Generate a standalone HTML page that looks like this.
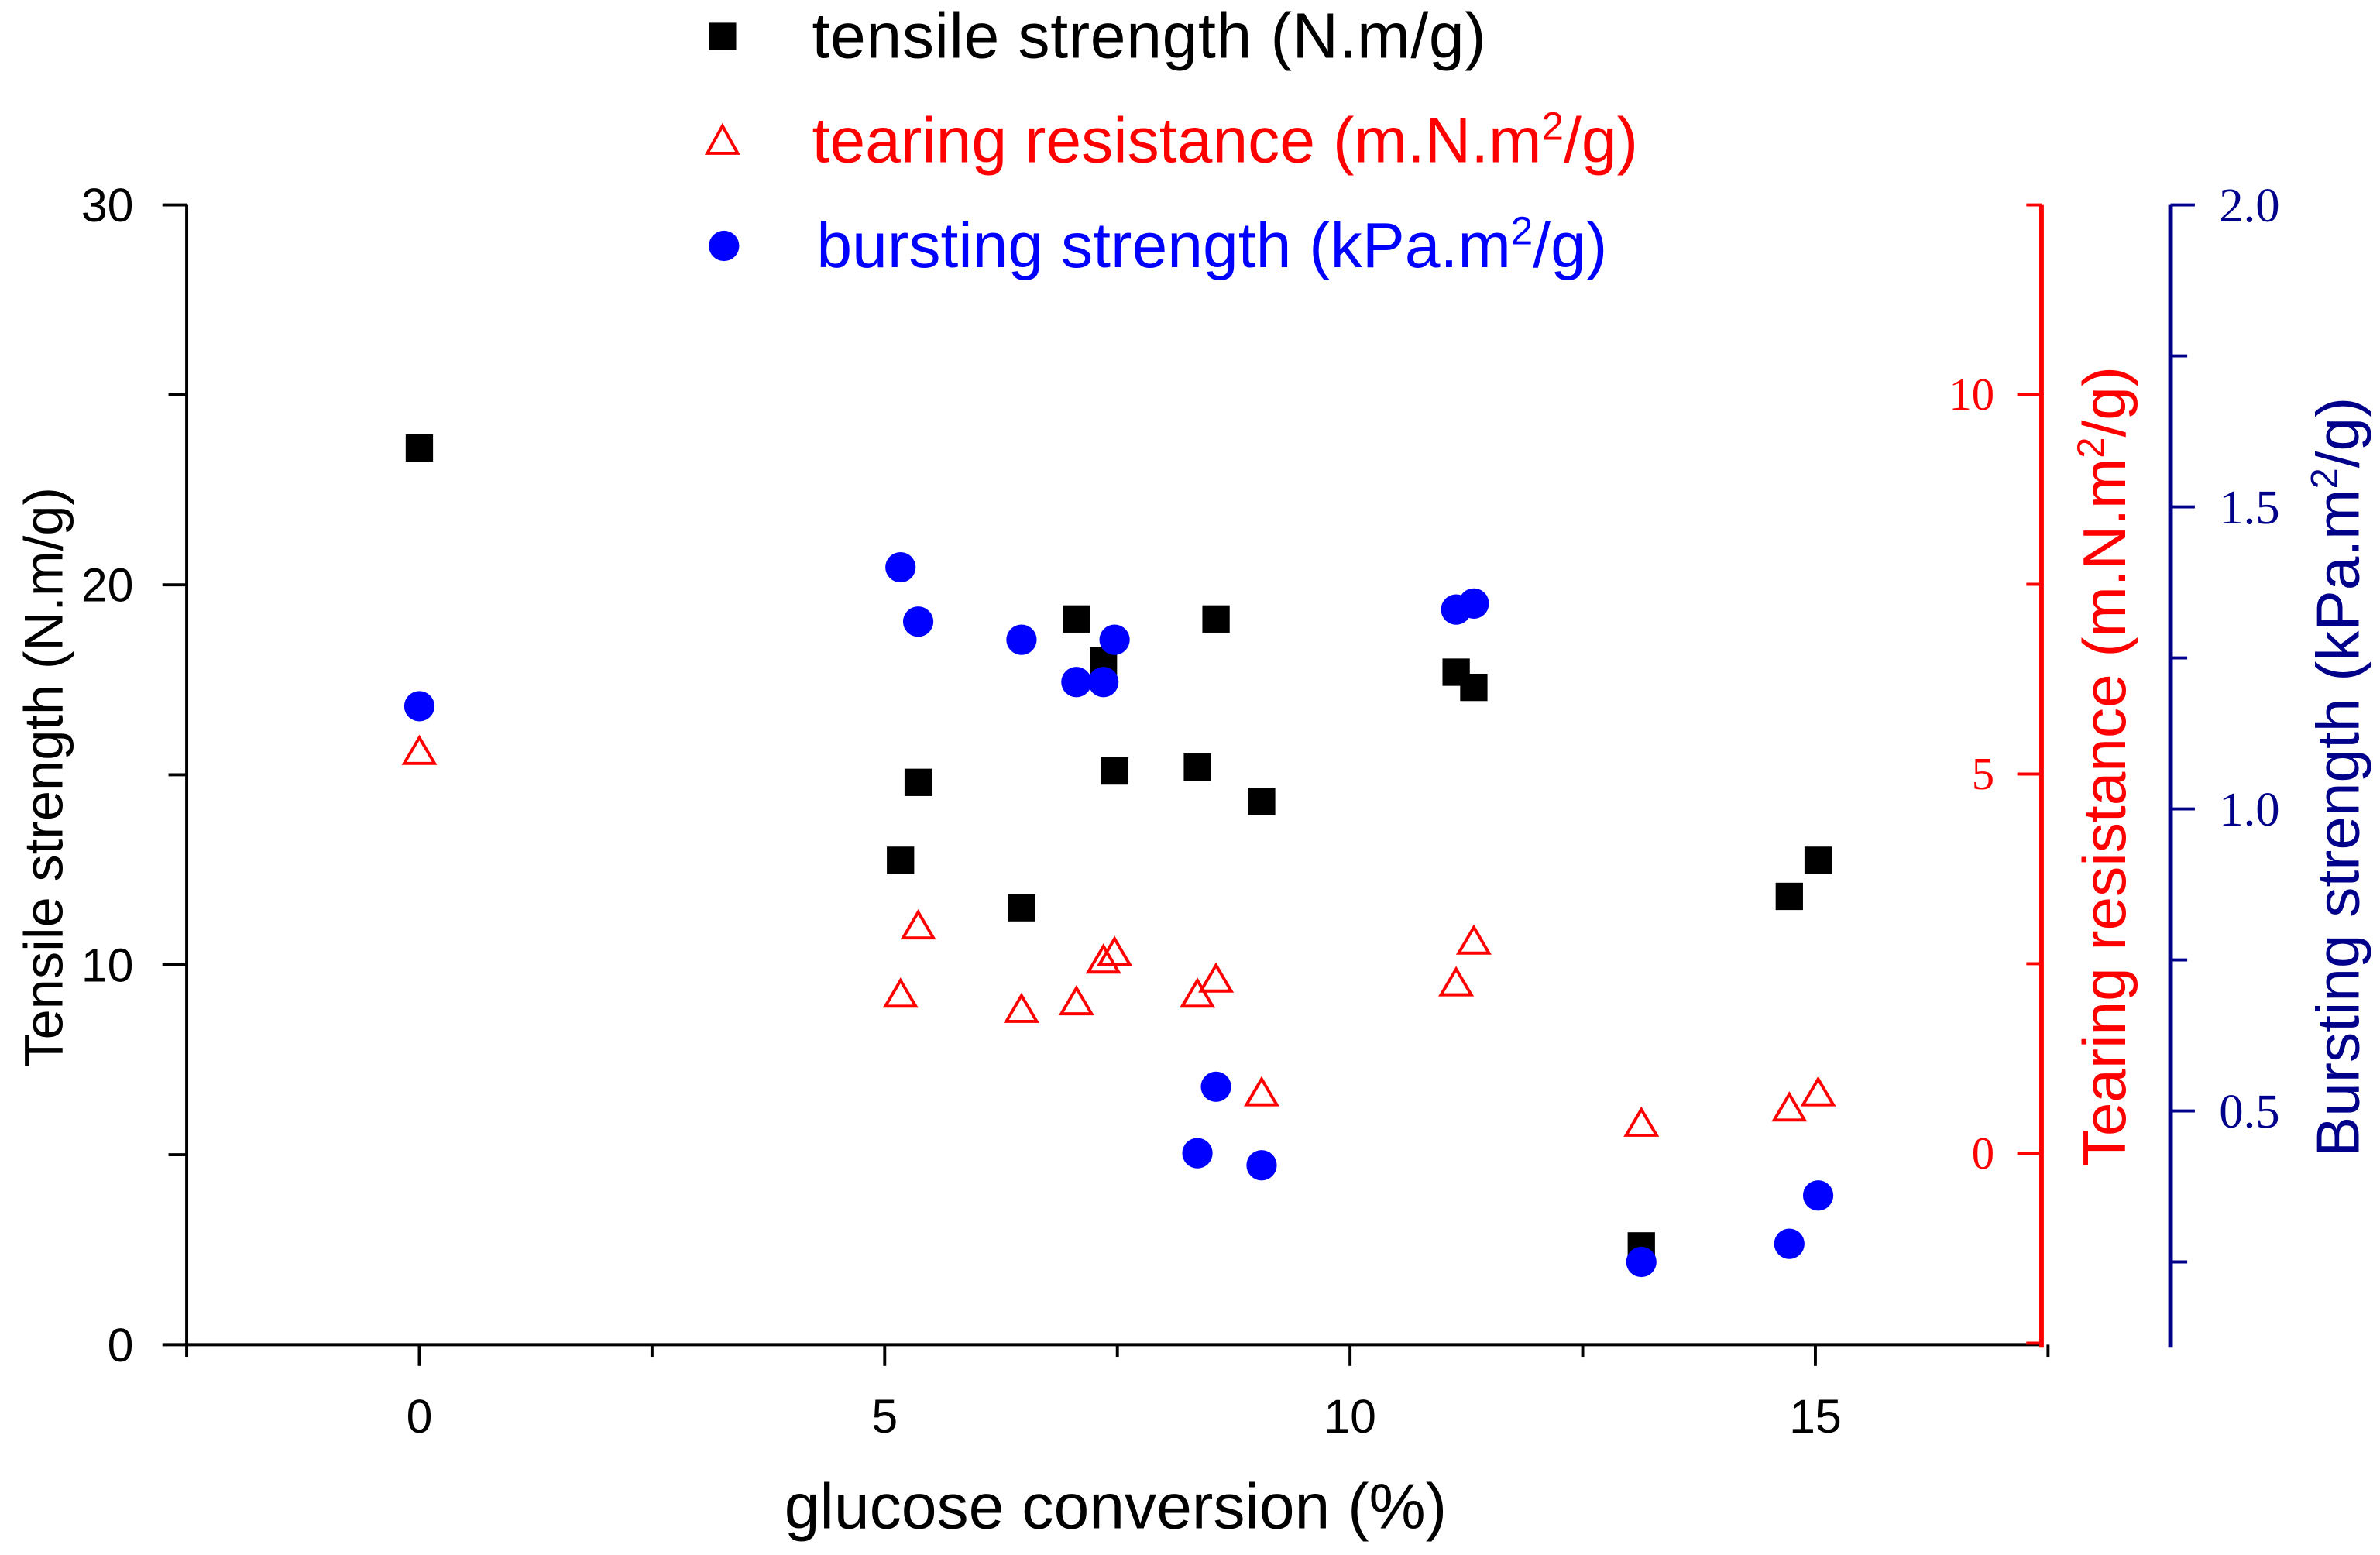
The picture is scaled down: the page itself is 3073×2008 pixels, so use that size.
<!DOCTYPE html>
<html><head><meta charset="utf-8"><style>
html,body{margin:0;padding:0;background:#fff;}
svg{display:block;}
</style></head><body>
<svg id="chart" width="3073" height="2008" viewBox="0 0 1568 1024.6" preserveAspectRatio="none" xmlns="http://www.w3.org/2000/svg">
<g id="axes"></g>
<g id="marks"></g>
<g id="legend">
 <rect x="467" y="15" width="18" height="18" fill="#000"/>
 <text x="535" y="38" font-family="Liberation Sans, sans-serif" font-size="42" fill="#000" textLength="444">tensile strength (N.m/g)</text>
 <polygon points="476,83 486,101 466,101" fill="none" stroke="#f00" stroke-width="2"/>
 <text x="535" y="107" font-family="Liberation Sans, sans-serif" font-size="42" fill="#f00">tearing resistance (m.N.m<tspan font-size="26" dy="-15">2</tspan><tspan dy="15">/g)</tspan></text>
 <circle cx="477" cy="162" r="10" fill="#00f"/>
 <text x="538" y="176" font-family="Liberation Sans, sans-serif" font-size="42" fill="#00f">bursting strength (kPa.m<tspan font-size="26" dy="-15">2</tspan><tspan dy="15">/g)</tspan></text>
</g>
</svg>
<script>
const xValues = [0, 5.17, 5.36, 6.47, 7.06, 7.35, 7.47, 8.36, 8.56, 9.05, 11.14, 11.33, 13.13, 14.72, 15.03];
const tensile = [23.6, 12.75, 14.8, 11.5, 19.1, 18.0, 15.1, 15.2, 19.1, 14.3, 17.7, 17.3, 2.6, 11.8, 12.75];
const tearing = [5.3, 2.1, 3.0, 1.9, 2.0, 2.55, 2.65, 2.1, 2.3, 0.8, 2.25, 2.8, 0.4, 0.6, 0.8];
const bursting = [1.17, 1.40, 1.31, 1.28, 1.21, 1.21, 1.28, 0.43, 0.54, 0.41, 1.33, 1.34, 0.25, 0.28, 0.36];
const xTicks = [0, 5, 10, 15];
const leftTicks = [0, 10, 20, 30];
const redTicks = [0, 5, 10];
const blueTicks = [0.5, 1.0, 1.5, 2.0];

const NS = 'http://www.w3.org/2000/svg';
const L = 123, R = 1345, T = 135, B = 886;
const xs = v => L + (v - (-2.5)) / (17.43 - (-2.5)) * (R - L);
const yL = v => B - v / 30 * (B - T);
const yR = v => B - (v - (-2.52)) / (12.5 - (-2.52)) * (B - T);
const yB = v => B - (v - 0.113) / (2.0 - 0.113) * (B - T);
const BX = 1430;

function mk(tag, attrs, parent) {
  const e = document.createElementNS(NS, tag);
  for (const k in attrs) e.setAttribute(k, attrs[k]);
  parent.appendChild(e);
  return e;
}
const axes = document.getElementById('axes');
const marks = document.getElementById('marks');

let e = mk('line', {x1: L, y1: T, x2: L, y2: B + 1, stroke: '#000', 'stroke-width': 2}, axes);


e = mk('line', {x1: L, y1: B, x2: R, y2: B, stroke: '#000', 'stroke-width': 2}, axes);


for (let v = 0; v <= 30; v += 5) {
  const major = v % 10 === 0;
  e = mk('line', {x1: L - (major ? 16 : 12), y1: yL(v), x2: L, y2: yL(v), stroke: '#000', 'stroke-width': 2}, axes);
  
  
}
leftTicks.forEach(v => {
  const t = mk('text', {x: 88, y: yL(v) + 11, 'text-anchor': 'end', 'font-family': 'Liberation Sans, sans-serif', 'font-size': 31}, axes);
  t.textContent = v;
  
  
});
for (let v = -2.5; v <= 17.5; v += 2.5) {
  const major = Math.abs(v % 5) < 1e-9;
  e = mk('line', {x1: xs(v), y1: B, x2: xs(v), y2: B + (major ? 14 : 8), stroke: '#000', 'stroke-width': 2}, axes);
  
  
}
xTicks.forEach(v => {
  const t = mk('text', {x: xs(v), y: 944, 'text-anchor': 'middle', 'font-family': 'Liberation Sans, sans-serif', 'font-size': 31}, axes);
  t.textContent = v;
  
  
});
let t = mk('text', {x: 735, y: 1007, 'text-anchor': 'middle', 'font-family': 'Liberation Sans, sans-serif', 'font-size': 42}, axes);
t.textContent = 'glucose conversion (%)';


t = mk('text', {x: 0, y: 0, 'text-anchor': 'middle', 'font-family': 'Liberation Sans, sans-serif', 'font-size': 36, transform: 'translate(41,512) rotate(-90)'}, axes);
t.textContent = 'Tensile strength (N.m/g)';



e = mk('line', {x1: R, y1: T, x2: R, y2: B + 2, stroke: '#f00', 'stroke-width': 3}, axes);


for (let v = -2.5; v <= 12.5; v += 2.5) {
  const major = Math.abs(v % 5) < 1e-9;
  e = mk('line', {x1: R - (major ? 16 : 10), y1: yR(v), x2: R, y2: yR(v), stroke: '#f00', 'stroke-width': 2}, axes);
  
  
}
redTicks.forEach(v => {
  const tt = mk('text', {x: 1314, y: yR(v) + 10, 'text-anchor': 'end', 'font-family': 'Liberation Serif, serif', 'font-size': 30, fill: '#f00'}, axes);
  tt.textContent = v;
  
  
});
t = mk('text', {x: 0, y: 0, 'text-anchor': 'middle', 'font-family': 'Liberation Sans, sans-serif', 'font-size': 40, fill: '#f00', transform: 'translate(1400,505) rotate(-90)'}, axes);
t.innerHTML = 'Tearing resistance (m.N.m<tspan font-size="25" dy="-14">2</tspan><tspan dy="14">/g)</tspan>';



e = mk('line', {x1: BX, y1: T, x2: BX, y2: B + 2, stroke: '#00008b', 'stroke-width': 3}, axes);


for (let v = 0.25; v <= 2.001; v += 0.25) {
  const major = Math.abs((v * 2) % 1) < 1e-9;
  e = mk('line', {x1: BX, y1: yB(v), x2: BX + (major ? 16 : 11), y2: yB(v), stroke: '#00008b', 'stroke-width': 2}, axes);
  
  
}
blueTicks.forEach(v => {
  const tt = mk('text', {x: 1462, y: yB(v) + 11, 'font-family': 'Liberation Serif, serif', 'font-size': 32, fill: '#00008b'}, axes);
  tt.textContent = v.toFixed(1);
  
  
});
t = mk('text', {x: 0, y: 0, 'text-anchor': 'middle', 'font-family': 'Liberation Sans, sans-serif', 'font-size': 40, fill: '#00008b', transform: 'translate(1554,512) rotate(-90)'}, axes);
t.innerHTML = 'Bursting strength (kPa.m<tspan font-size="25" dy="-14">2</tspan><tspan dy="14">/g)</tspan>';



xValues.forEach((x, i) => {
  const cx = xs(x);
  let m = mk('rect', {x: cx - 9, y: yL(tensile[i]) - 9, width: 18, height: 18, fill: '#000'}, marks);
  
  
  const ty = yR(tearing[i]);
  m = mk('polygon', {points: `${cx},${ty - 9} ${cx + 10},${ty + 8} ${cx - 10},${ty + 8}`, fill: 'none', stroke: '#f00', 'stroke-width': 2}, marks);
  
  
  m = mk('circle', {cx: cx, cy: yB(bursting[i]), r: 10, fill: '#00f'}, marks);
  
  
});
</script>
</body></html>
